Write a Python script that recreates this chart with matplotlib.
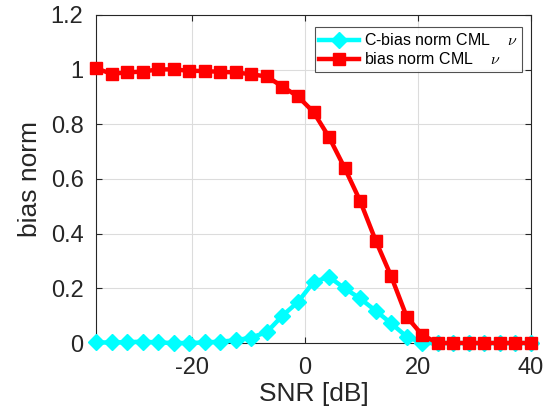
import matplotlib
matplotlib.use("Agg")
import matplotlib.pyplot as plt
from matplotlib.ticker import FormatStrFormatter

snr_db = [-37, -34.25, -31.5, -28.75, -26, -23.25, -20.5, -17.75, -15, -12.25,
          -9.5, -6.75, -4, -1.25, 1.5, 4.25, 7, 9.75, 12.5, 15.25,
          18, 20.75, 23.5, 26.25, 29, 31.75, 34.5, 37.25, 40]
c_bias_norm = [0.002, 0.002, 0.003, 0.005, 0.002, 0.0, 0.0, 0.002, 0.005, 0.01,
               0.02, 0.04, 0.10, 0.15, 0.223, 0.242, 0.20, 0.163, 0.118, 0.072,
               0.023, 0.0, 0.0, 0.0, 0.0, 0.0, 0.0, 0.0, 0.0]
bias_norm = [1.005, 0.985, 0.99, 0.993, 1.001, 1.001, 0.996, 0.995, 0.992, 0.99,
             0.983, 0.975, 0.938, 0.902, 0.845, 0.753, 0.641, 0.52, 0.375, 0.244,
             0.096, 0.029, 0.0, 0.0, 0.0, 0.0, 0.0, 0.0, 0.0]
labels = ["C-bias norm CML    $\\nu$", "bias norm CML    $\\nu$"]

plt.rcParams['font.family'] = ['Liberation Sans', 'DejaVu Sans']
plt.rcParams['mathtext.fontset'] = 'cm'
plt.rcParams['axes.unicode_minus'] = False
txt = '#262626'

fig = plt.figure(figsize=(5.53, 4.12), dpi=100)
ax = fig.add_axes([96/553, 1 - 343/412, (531-96)/553, (343-15)/412])

ax.plot(snr_db, c_bias_norm, color='cyan', lw=3.2, marker='D', ms=8.5,
        label=labels[0], clip_on=False, zorder=3)
ax.plot(snr_db, bias_norm, color='red', lw=3.2, marker='s', ms=8,
        label=labels[1], clip_on=False, zorder=4)

ax.set_xlim(snr_db[0], snr_db[-1])
ax.set_ylim(0, 1.2)
ax.set_xticks([-20, 0, 20, 40])
ax.set_yticks([0, 0.2, 0.4, 0.6, 0.8, 1.0, 1.2])
ax.yaxis.set_major_formatter(FormatStrFormatter('%g'))
ax.grid(True, color='#dcdcdc', lw=0.8)
ax.set_axisbelow(True)
ax.tick_params(direction='in', length=4, width=0.8, labelsize=17, colors=txt,
               top=True, right=True)
ax.tick_params(axis='x', pad=10)
ax.tick_params(axis='y', pad=9)
for s in ax.spines.values():
    s.set_color(txt)
    s.set_linewidth(0.8)
ax.set_xlabel('SNR [dB]', fontsize=19, color=txt, labelpad=2)
ax.set_ylabel('bias norm', fontsize=19, color=txt, labelpad=6)

leg = ax.legend(loc='upper right', bbox_to_anchor=(0.98, 0.962), fontsize=11.5,
                frameon=True, fancybox=False, edgecolor=txt, handlelength=2.5,
                borderpad=0.3, labelspacing=0.2, handletextpad=0.3,
                borderaxespad=0.0)
leg.get_frame().set_linewidth(0.8)
for t in leg.get_texts():
    t.set_color('black')

fig.savefig('out.png', dpi=100)
